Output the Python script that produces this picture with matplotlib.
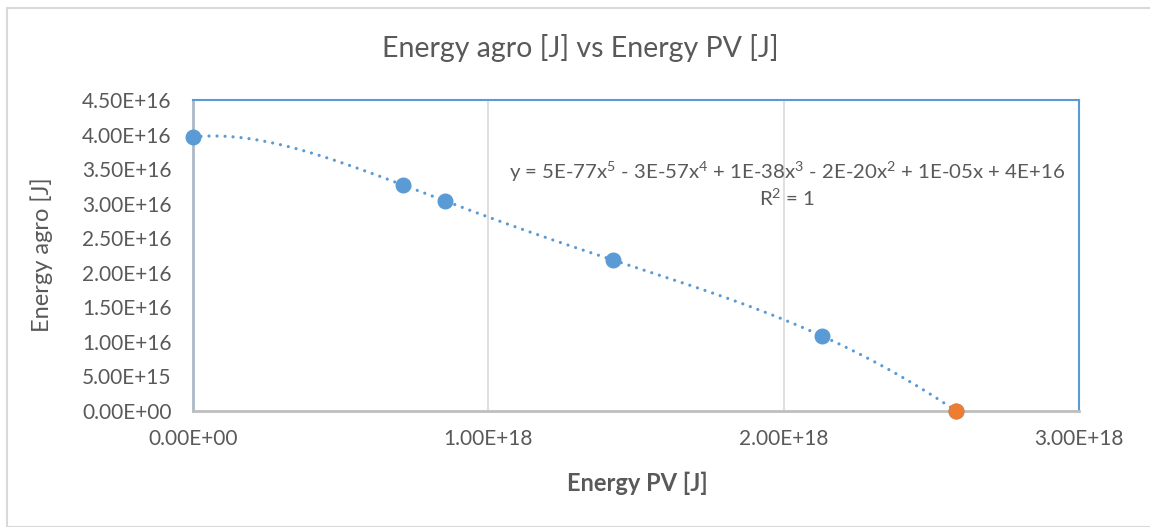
import numpy as np
import matplotlib
matplotlib.use("Agg")
import matplotlib.pyplot as plt
from matplotlib.patches import Rectangle

plt.rcParams['font.family'] = ['Lato', 'DejaVu Sans']
plt.rcParams['mathtext.fontset'] = 'custom'
plt.rcParams['mathtext.rm'] = 'Lato'
plt.rcParams['mathtext.it'] = 'Lato'
plt.rcParams['mathtext.default'] = 'rm'

# Data (Energy PV [J], Energy agro [J])
pv_blue = [0.0, 0.711e18, 0.853e18, 1.422e18, 2.130e18, 2.584e18]
agro_blue = [3.965e16, 3.27e16, 3.04e16, 2.185e16, 1.085e16, 0.0]
pv_orange = [2.584e18]
agro_orange = [0.0]

x_ticks = [0, 1e18, 2e18, 3e18]
x_ticklabels = ["0.00E+00", "1.00E+18", "2.00E+18", "3.00E+18"]
y_ticks = [i * 0.5e16 for i in range(10)]
y_ticklabels = ["0.00E+00", "5.00E+15", "1.00E+16", "1.50E+16", "2.00E+16",
                "2.50E+16", "3.00E+16", "3.50E+16", "4.00E+16", "4.50E+16"]

title = "Energy agro [J] vs Energy PV [J]"
xlabel = "Energy PV [J]"
ylabel = "Energy agro [J]"
eq_text = "y = 5E-77x$^{5}$ - 3E-57x$^{4}$ + 1E-38x$^{3}$ - 2E-20x$^{2}$ + 1E-05x + 4E+16"
r2_text = "R$^{2}$ = 1"

BLUE = "#5B9BD5"
ORANGE = "#ED7D31"
TXT = "#595959"

fig = plt.figure(figsize=(11.5, 5.27), dpi=100)
fig.patches.append(Rectangle((7/1150, 0), 1.2, 1 - 8/527, transform=fig.transFigure,
                             fill=False, edgecolor="#D9D9D9", linewidth=1.5))
ax = fig.add_axes([193/1150, 1 - 411/527, (1079 - 193)/1150, (411 - 100)/527])

ax.set_xlim(0, 3e18)
ax.set_ylim(0, 4.5e16)

# Polynomial trendline (order 5) fitted to blue series
xs = np.array(pv_blue) / 1e18
coef = np.polyfit(xs, np.array(agro_blue), 5)
xx = np.linspace(xs.min(), xs.max(), 400)
ax.plot(xx * 1e18, np.polyval(coef, xx), color=BLUE, linewidth=2.3,
        linestyle=(0, (0.01, 2.5)), dash_capstyle='round', zorder=2)

ax.plot(pv_blue, agro_blue, 'o', color=BLUE, markersize=10.5, zorder=3, clip_on=False)
ax.plot(pv_orange, agro_orange, 'o', color=ORANGE, markersize=10.5, zorder=4, clip_on=False)

ax.set_xticks(x_ticks)
ax.set_xticklabels(x_ticklabels)
ax.set_yticks(y_ticks)
ax.set_yticklabels(y_ticklabels)
ax.tick_params(axis='both', length=0, labelsize=15, labelcolor=TXT)
ax.tick_params(axis='x', pad=13)
ax.tick_params(axis='y', pad=15.5)

ax.xaxis.grid(True, color="#D9D9D9", linewidth=1.2)
ax.set_axisbelow(True)

ax.spines['top'].set_color(BLUE)
ax.spines['right'].set_color(BLUE)
ax.spines['top'].set_linewidth(1.5)
ax.spines['right'].set_linewidth(1.5)
ax.spines['left'].set_color("#ADB9CA")
ax.spines['bottom'].set_color("#BFBFBF")
ax.spines['left'].set_linewidth(2)
ax.spines['bottom'].set_linewidth(2)

fig.text(580/1150, 1 - 48/527, title, ha='center', va='center', fontsize=20.5, color=TXT)
fig.text(637/1150, 1 - 483/527, xlabel, ha='center', va='center', fontsize=17,
         color=TXT, fontweight='bold')
fig.text(42/1150, 1 - 255/527, ylabel, ha='center', va='center', fontsize=17,
         color=TXT, rotation=90)

ax.text(787/1150, 1 - 172/527, eq_text, transform=fig.transFigure, ha='center',
        va='center', fontsize=14.7, color=TXT)
ax.text(787/1150, 1 - 198/527, r2_text, transform=fig.transFigure, ha='center',
        va='center', fontsize=14.7, color=TXT)

fig.savefig("out.png", dpi=100)
